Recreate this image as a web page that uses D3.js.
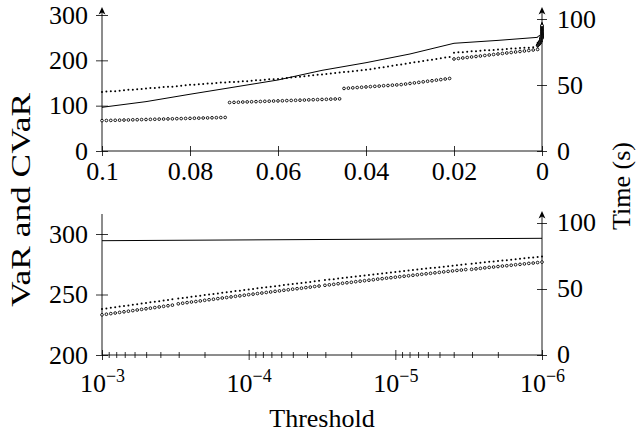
<!DOCTYPE html>
<html>
<head>
<meta charset="utf-8">
<script src="https://cdn.jsdelivr.net/npm/d3@7"></script>
<style>
body{margin:0;background:#fff}
svg text{font-family:"Liberation Serif","Times New Roman",serif;fill:#000}
</style>
</head>
<body>
<svg id="chart" width="638" height="433"></svg>
<script>
// top panel: threshold grid in 1/1000 steps (0.100 ... 0.001)
var topMille = [100,99,98,97,96,95,94,93,92,91,90,89,88,87,86,85,84,83,82,81,80,79,78,77,76,75,74,73,72,71,
    70,69,68,67,66,65,64,63,62,61,60,59,58,57,56,55,54,53,52,51,50,49,48,47,46,45,44,43,42,41,
    40,39,38,37,36,35,34,33,32,31,30,29,28,27,26,25,24,23,22,21,20,19,18,17,16,15,14,13,12,11,
    10,9,8,7,6,5,4,3,2,1];

// CVaR (dotted) and VaR (circles)
var cvarTop = [130,131,132,132,133,134,135,135,136,137,138,139,139,140,141,142,142,143,144,145,146,146,147,148,
    149,149,150,151,151,152,152,153,154,154,155,156,156,157,158,158,159,
    160,161,162,163,164,165,166,167,168,169,170,171,172,173,174,175,176,177,178,179,
    180.5,182,183.5,185,186.5,188,189.5,191,192.5,194,195.5,197,198.5,200,201.5,203,204.5,206,207.5,
    217,218,218,219,220,220,221,222,222,223,224,224,225,226,226,227,228,228,229,230];
var varTop = [67,67.3,67.5,67.8,68,68.3,68.5,68.8,69,69.3,69.5,69.8,70,70.3,70.5,70.8,71,71.3,71.5,71.8,72,72.3,72.5,72.8,73,73.3,73.5,73.8,74,
    107,107.3,107.6,108,108.3,108.6,108.9,109.2,109.6,109.9,110.2,110.5,110.8,111.2,111.5,111.8,112.1,112.4,112.8,113.1,113.4,113.7,114,114.4,114.7,115,
    138,138.7,139.3,140,140.6,141.3,142,142.6,143.2,144,144.5,145.2,145.8,146.5,147.7,149,150.2,151.4,152.6,153.9,155,156.3,157.5,158.8,160,
    203,204.1,205.2,206.3,207.4,208.5,209.6,210.7,211.8,212.9,214,215.1,216.2,217.3,218.4,219.5,220.6,221.7,222.8,224];

// time (s), solid line
var timeTopThr = [0.1,0.09,0.08,0.07,0.06,0.05,0.04,0.03,0.02,0.01,0.001];
var timeTop = [33.1,37.4,43,48.4,53.8,61.1,66.9,73.5,81.6,83.8,86.1];

// bottom panel: threshold = 10^-exp
var botExp = [3.00,3.03,3.06,3.09,3.12,3.15,3.18,3.21,3.24,3.27,3.30,3.33,3.36,3.39,3.42,3.45,3.48,
    3.52,3.55,3.58,3.61,3.64,3.67,3.70,3.73,3.76,3.79,3.82,3.85,3.88,3.91,3.94,3.97,
    4.00,4.03,4.06,4.09,4.12,4.15,4.18,4.21,4.24,4.27,4.30,4.33,4.36,4.39,4.42,4.45,4.48,
    4.52,4.55,4.58,4.61,4.64,4.67,4.70,4.73,4.76,4.79,4.82,4.85,4.88,4.91,4.94,4.97,
    5.00,5.03,5.06,5.09,5.12,5.15,5.18,5.21,5.24,5.27,5.30,5.33,5.36,5.39,5.42,5.45,5.48,
    5.52,5.55,5.58,5.61,5.64,5.67,5.70,5.73,5.76,5.79,5.82,5.85,5.88,5.91,5.94,5.97,6.00];
var cvarBot = [238.0,238.5,239.0,239.5,240.0,240.5,241.0,241.5,242.0,242.5,243.0,243.5,244.0,244.5,245.0,245.5,246.0,
    246.6,247.1,247.6,248.1,248.5,249.0,249.5,250.0,250.4,250.9,251.4,251.8,252.3,252.8,253.2,253.7,
    254.2,254.6,255.1,255.5,256.0,256.4,256.9,257.3,257.8,258.2,258.7,259.1,259.5,260.0,260.4,260.9,261.3,
    261.9,262.3,262.7,263.2,263.6,264.0,264.4,264.9,265.3,265.7,266.1,266.5,267.0,267.4,267.8,268.2,
    268.6,269.0,269.4,269.8,270.2,270.6,271.0,271.4,271.8,272.2,272.6,273.0,273.4,273.8,274.2,274.5,274.9,
    275.4,275.8,276.2,276.6,277.0,277.3,277.7,278.1,278.4,278.8,279.2,279.5,279.9,280.3,280.6,281.0,281.4];
var varBot = [233.2,233.7,234.2,234.7,235.2,235.7,236.2,236.7,237.2,237.7,238.2,238.7,239.2,239.7,240.2,240.7,241.2,
    242.3,242.8,243.3,243.8,244.2,244.7,245.2,245.7,246.1,246.6,247.1,247.5,248.0,248.5,248.9,249.4,
    249.9,250.3,250.8,251.2,251.7,252.1,252.6,253.0,253.5,253.9,254.4,254.8,255.2,255.7,256.1,256.6,257.0,
    257.6,258.0,258.4,258.9,259.3,259.7,260.1,260.6,261.0,261.4,261.8,262.2,262.7,263.1,263.5,263.9,
    264.3,264.7,265.1,265.5,265.9,266.3,266.7,267.1,267.5,267.9,268.3,268.7,269.1,269.5,269.9,270.2,270.6,
    270.8,271.2,271.6,272.0,272.4,272.7,273.1,273.5,273.8,274.2,274.6,274.9,275.3,275.7,276.0,276.4,276.8];
var timeBotThr = [1e-3, 1e-6];
var timeBot = [86.6, 88.4];

// ticks
var topXTicks = [0.1, 0.08, 0.06, 0.04, 0.02, 0];
var topXLabels = ['0.1', '0.08', '0.06', '0.04', '0.02', '0'];
var topLTicks = [0, 100, 200, 300];
var topRTicks = [0, 50, 100];
var botXExp = [3, 4, 5, 6];
var botMinorMult = [2, 3, 4, 5, 6, 7, 8, 9];
var botLTicks = [200, 250, 300];
var botRTicks = [0, 50, 100];

(function(){
    'use strict';

    var svg = d3.select('#chart'),
        topThr = topMille.map(function(m){ return m / 1000; }),
        botThr = botExp.map(function(e){ return Math.pow(10, -e); });

    var xTop = d3.scaleLinear().domain([0.1, 0]).range([102, 542]),
        yTopL = d3.scaleLinear().domain([0, 300]).range([151, 15]),
        yTopR = d3.scaleLinear().domain([0, 100]).range([151, 19]),
        xBot = d3.scaleLog().domain([1e-3, 1e-6]).range([102, 542]),
        yBotL = d3.scaleLinear().domain([200, 300]).range([355, 234]),
        yBotR = d3.scaleLinear().domain([0, 100]).range([355, 223]);

    function axisG( axis, tx, ty ){
        var g = svg.append('g')
            .attr('transform', 'translate(' + tx + ',' + ty + ')')
            .style('font-size', '26px')
            .call( axis );
        g.select('.domain').remove();
        g.selectAll('.tick line').attr('stroke', '#000').attr('stroke-width', 0.8);
        g.selectAll('text').style('font-family', '"Liberation Serif",serif');
        return g;
    }

    function arrow( x, y ){
        svg.append('path')
            .attr('d', 'M' + x + ',' + y + ' L' + (x - 3.4) + ',' + (y + 7.5) +
                ' L' + x + ',' + (y + 5.5) + ' L' + (x + 3.4) + ',' + (y + 7.5) + ' Z')
            .attr('fill', '#000');
    }

    function vline( x, y1, y2 ){
        svg.append('line').attr('x1', x).attr('x2', x).attr('y1', y1).attr('y2', y2)
            .attr('stroke', '#000').attr('stroke-width', 0.9);
    }

    function hline( y, x1, x2 ){
        svg.append('line').attr('x1', x1).attr('x2', x2).attr('y1', y).attr('y2', y)
            .attr('stroke', '#000').attr('stroke-width', 0.9);
    }

    // ---- top panel axes
    var gx = axisG( d3.axisBottom(xTop).tickValues(topXTicks)
        .tickFormat(function(d, i){ return topXLabels[i]; }).tickSize(5).tickPadding(6), 0, 151 );
    gx.selectAll('.tick line').attr('y1', -5);

    var gl = axisG( d3.axisLeft(yTopL).tickValues(topLTicks).tickSize(6).tickPadding(8), 102, 0 );
    gl.selectAll('.tick line').attr('x1', 6);

    var gr = axisG( d3.axisRight(yTopR).tickValues(topRTicks).tickSize(5).tickPadding(10), 542, 0 );
    gr.selectAll('.tick line').attr('x1', -5);

    hline( 151, 102, 542 );
    vline( 102, 151, 9 );
    vline( 542, 151, 9 );
    arrow( 102, 7 );
    arrow( 542, 7 );

    // ---- bottom panel axes
    var minor = [];
    botXExp.slice(1).forEach(function(e){
        botMinorMult.forEach(function(m){ minor.push( m * Math.pow(10, -e) ); });
    });
    var gmin = axisG( d3.axisBottom(xBot).tickValues(minor).tickFormat('').tickSize(3), 0, 355 );
    gmin.selectAll('.tick line').attr('y1', -3);

    var gbx = axisG( d3.axisBottom(xBot).tickValues(botXExp.map(function(e){ return Math.pow(10, -e); }))
        .tickFormat('').tickSize(5), 0, 355 );
    gbx.selectAll('.tick line').attr('y1', -5);
    gbx.selectAll('.tick').each(function(d, i){
        var t = d3.select(this).append('text')
            .attr('y', 37).attr('text-anchor', 'middle').attr('fill', '#000')
            .style('font-size', '26px');
        t.append('tspan').text('10');
        t.append('tspan').attr('dy', -10).style('font-size', '18px').text('\u2212' + botXExp[i]);
    });

    var gbl = axisG( d3.axisLeft(yBotL).tickValues(botLTicks).tickSize(6).tickPadding(8), 102, 0 );
    gbl.selectAll('.tick line').attr('x1', 6);

    var gbr = axisG( d3.axisRight(yBotR).tickValues(botRTicks).tickSize(5).tickPadding(10), 542, 0 );
    gbr.selectAll('.tick line').attr('x1', -5);
    gbr.selectAll('text').attr('dy', '0.28em');

    hline( 355, 102, 542 );
    vline( 102, 355, 214 );
    vline( 542, 355, 214 );
    arrow( 542, 211 );

    // ---- axis titles
    svg.append('text')
        .attr('transform', 'translate(30,200) rotate(-90)')
        .attr('text-anchor', 'middle')
        .attr('textLength', 214).attr('lengthAdjust', 'spacingAndGlyphs')
        .style('font-size', '27px')
        .text('VaR and CVaR');

    svg.append('text')
        .attr('transform', 'translate(630,186) rotate(-90)')
        .attr('text-anchor', 'middle')
        .style('font-size', '26px')
        .text('Time (s)');

    svg.append('text')
        .attr('x', 322).attr('y', 427)
        .attr('text-anchor', 'middle')
        .style('font-size', '26px')
        .text('Threshold');

    // ---- series
    function rows( xs, ys ){
        return xs.map(function(x, i){ return [x, ys[i]]; });
    }

    var topCvarPts = rows(topThr, cvarTop).concat(rows(botThr, cvarBot)),
        topVarPts = rows(topThr, varTop).concat(rows(botThr, varBot)),
        topTimePts = rows(timeTopThr, timeTop).concat(rows(timeBotThr, timeBot));

    function solid( pts, x, y ){
        svg.append('path')
            .datum(pts)
            .attr('fill', 'none')
            .attr('stroke', '#000')
            .attr('stroke-width', 1)
            .attr('d', d3.line().x(function(d){ return x(d[0]); }).y(function(d){ return y(d[1]); }));
    }

    function dots( pts, x, y ){
        svg.append('g').selectAll('circle')
            .data(pts).enter().append('circle')
            .attr('cx', function(d){ return x(d[0]); })
            .attr('cy', function(d){ return y(d[1]); })
            .attr('r', 1)
            .attr('fill', '#000');
    }

    function rings( pts, x, y ){
        svg.append('g').selectAll('circle')
            .data(pts).enter().append('circle')
            .attr('cx', function(d){ return x(d[0]); })
            .attr('cy', function(d){ return y(d[1]); })
            .attr('r', 1.35)
            .attr('fill', '#fff')
            .attr('stroke', '#000')
            .attr('stroke-width', 0.9);
    }

    solid( topTimePts, xTop, yTopR );
    dots( topCvarPts, xTop, yTopL );
    rings( topVarPts, xTop, yTopL );

    solid( rows(timeBotThr, timeBot), xBot, yBotR );
    dots( rows(botThr, cvarBot), xBot, yBotL );
    rings( rows(botThr, varBot), xBot, yBotL );
})();
</script>
</body>
</html>
